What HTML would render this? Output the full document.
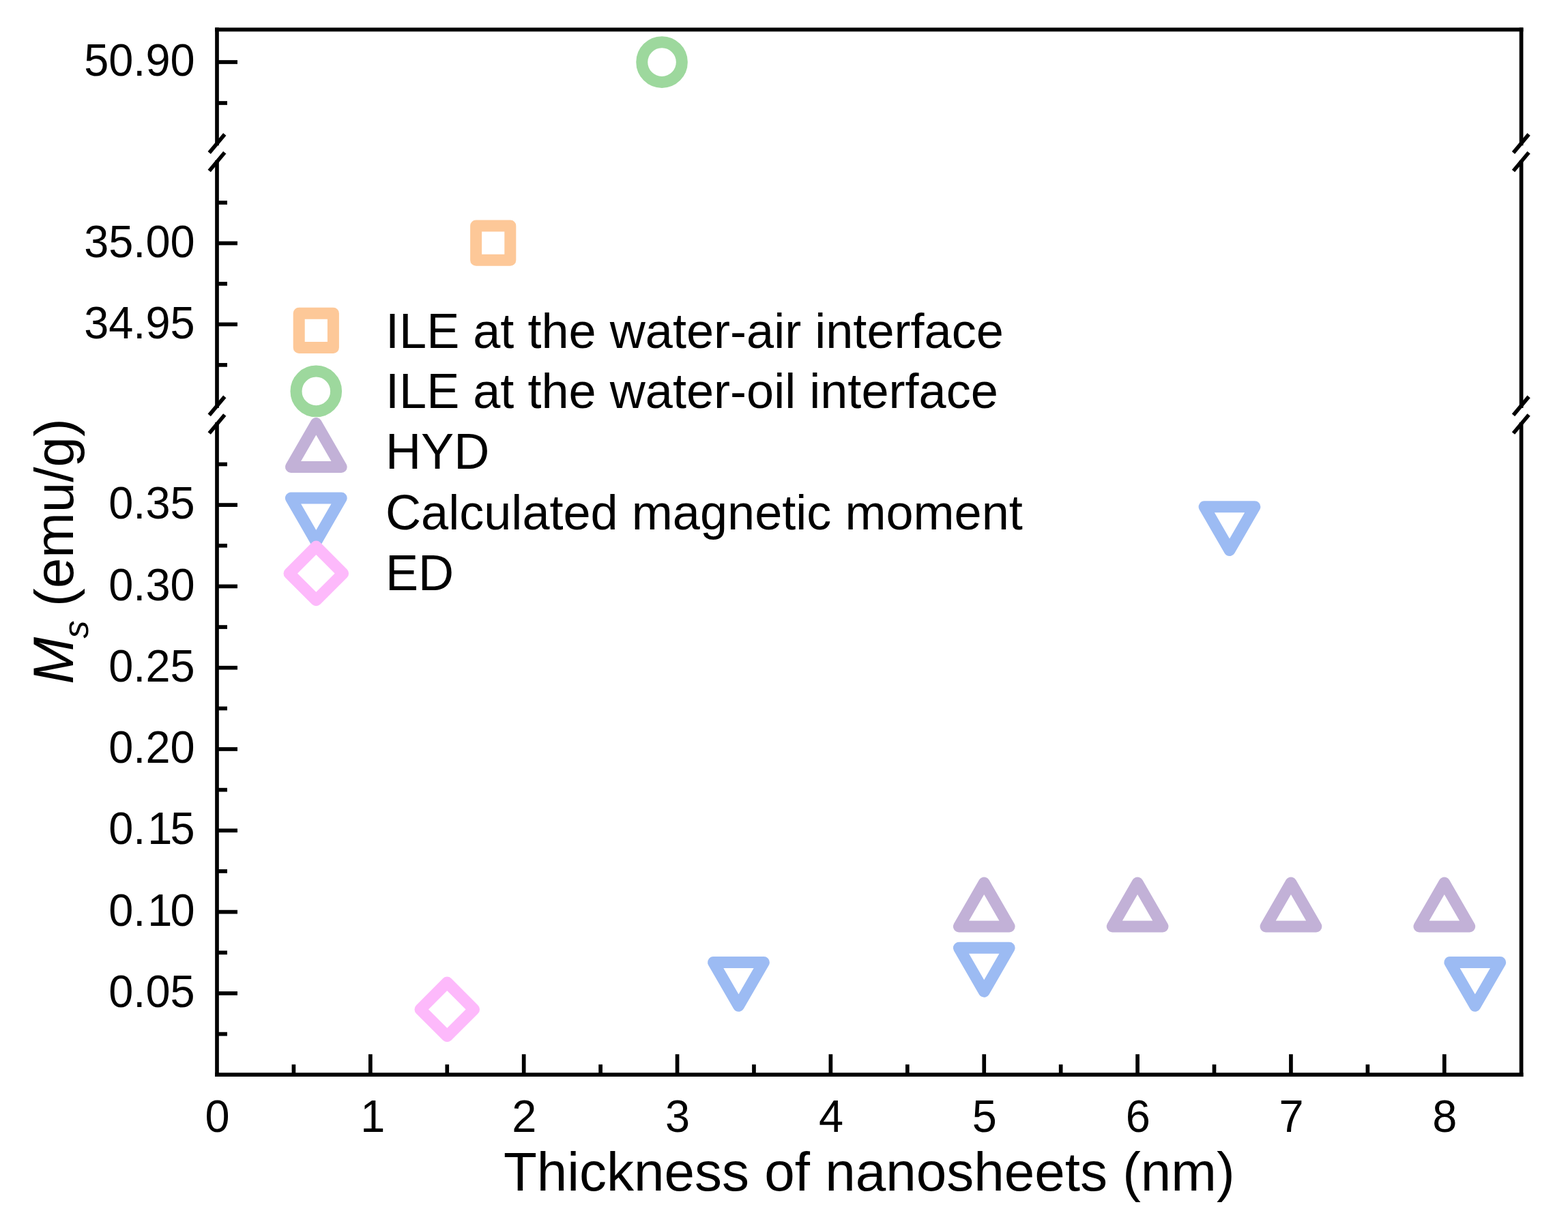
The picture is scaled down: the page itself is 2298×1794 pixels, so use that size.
<!DOCTYPE html>
<html lang="en"><head><meta charset="utf-8">
<title>Ms versus thickness of nanosheets</title>
<style>
html,body{margin:0;padding:0;background:#fff;overflow:hidden;}
body{width:2298px;height:1794px;overflow:hidden;}
svg{display:block;}
text{font-family:"Liberation Sans", sans-serif;fill:#000;}
.ax{stroke:#000;stroke-width:5.7;fill:none;stroke-linecap:butt;}
.tk{stroke:#000;stroke-width:5.7;fill:none;stroke-linecap:butt;}
.bk{stroke:#000;stroke-width:5.6;fill:none;stroke-linecap:butt;}
.m{fill:none;stroke-width:17;stroke-linejoin:round;stroke-linecap:round;}
.sq{stroke:#FDC898;}.ci{stroke:#9DD89D;}.ut{stroke:#C2B1D7;}.dt{stroke:#9CBBF3;}.di{stroke:#FDB9FB;}
.tl{font-size:64.92px;}
.lg{font-size:72.13px;}
.ti{font-size:80px;}
</style></head><body>
<svg width="2298" height="1794" viewBox="0 0 2298 1794" role="img" aria-label="Saturation magnetization versus thickness of nanosheets">
<rect x="0" y="0" width="2298" height="1794" fill="#fff"/>
<g id="axes">
<line class="ax" x1="318.00" y1="40.55" x2="318.00" y2="213.20"/>
<line class="ax" x1="318.00" y1="234.90" x2="318.00" y2="597.90"/>
<line class="ax" x1="318.00" y1="619.00" x2="318.00" y2="1578.05"/>
<line class="ax" x1="2229.55" y1="40.55" x2="2229.55" y2="213.20"/>
<line class="ax" x1="2229.55" y1="234.90" x2="2229.55" y2="597.90"/>
<line class="ax" x1="2229.55" y1="619.00" x2="2229.55" y2="1578.05"/>
<line class="ax" x1="315.15" y1="43.40" x2="2232.40" y2="43.40"/>
<line class="ax" x1="315.15" y1="1575.20" x2="2232.40" y2="1575.20"/>
<line class="bk" x1="306.70" y1="223.90" x2="329.30" y2="196.90"/>
<line class="bk" x1="306.70" y1="250.50" x2="329.30" y2="223.50"/>
<line class="bk" x1="306.70" y1="608.40" x2="329.30" y2="581.40"/>
<line class="bk" x1="306.70" y1="635.00" x2="329.30" y2="608.00"/>
<line class="bk" x1="2217.95" y1="223.90" x2="2240.55" y2="196.90"/>
<line class="bk" x1="2217.95" y1="250.50" x2="2240.55" y2="223.50"/>
<line class="bk" x1="2217.95" y1="608.40" x2="2240.55" y2="581.40"/>
<line class="bk" x1="2217.95" y1="635.00" x2="2240.55" y2="608.00"/>
</g>
<g id="yticks">
<line class="tk" x1="318.00" y1="91.00" x2="348.00" y2="91.00"/>
<line class="tk" x1="318.00" y1="356.50" x2="348.00" y2="356.50"/>
<line class="tk" x1="318.00" y1="475.40" x2="348.00" y2="475.40"/>
<line class="tk" x1="318.00" y1="740.10" x2="348.00" y2="740.10"/>
<line class="tk" x1="318.00" y1="859.40" x2="348.00" y2="859.40"/>
<line class="tk" x1="318.00" y1="978.70" x2="348.00" y2="978.70"/>
<line class="tk" x1="318.00" y1="1098.00" x2="348.00" y2="1098.00"/>
<line class="tk" x1="318.00" y1="1217.30" x2="348.00" y2="1217.30"/>
<line class="tk" x1="318.00" y1="1336.60" x2="348.00" y2="1336.60"/>
<line class="tk" x1="318.00" y1="1455.90" x2="348.00" y2="1455.90"/>
<line class="tk" x1="318.00" y1="151.00" x2="333.00" y2="151.00"/>
<line class="tk" x1="318.00" y1="297.00" x2="333.00" y2="297.00"/>
<line class="tk" x1="318.00" y1="415.90" x2="333.00" y2="415.90"/>
<line class="tk" x1="318.00" y1="534.90" x2="333.00" y2="534.90"/>
<line class="tk" x1="318.00" y1="680.45" x2="333.00" y2="680.45"/>
<line class="tk" x1="318.00" y1="799.75" x2="333.00" y2="799.75"/>
<line class="tk" x1="318.00" y1="919.05" x2="333.00" y2="919.05"/>
<line class="tk" x1="318.00" y1="1038.35" x2="333.00" y2="1038.35"/>
<line class="tk" x1="318.00" y1="1157.65" x2="333.00" y2="1157.65"/>
<line class="tk" x1="318.00" y1="1276.95" x2="333.00" y2="1276.95"/>
<line class="tk" x1="318.00" y1="1396.25" x2="333.00" y2="1396.25"/>
<line class="tk" x1="318.00" y1="1515.55" x2="333.00" y2="1515.55"/>
</g>
<g id="ylabels" class="tl" text-anchor="end">
<text transform="translate(285.60 111.10) scale(1 1.028)">50.90</text>
<text transform="translate(285.60 376.60) scale(1 1.028)">35.00</text>
<text transform="translate(285.60 495.50) scale(1 1.028)">34.95</text>
<text transform="translate(285.60 760.20) scale(1 1.028)">0.35</text>
<text transform="translate(285.60 879.50) scale(1 1.028)">0.30</text>
<text transform="translate(285.60 998.80) scale(1 1.028)">0.25</text>
<text transform="translate(285.60 1118.10) scale(1 1.028)">0.20</text>
<text transform="translate(285.60 1237.40) scale(1 1.028)" dx="0 0 2.8 -2.8">0.15</text>
<text transform="translate(285.60 1356.70) scale(1 1.028)" dx="0 0 2.8 -2.8">0.10</text>
<text transform="translate(285.60 1476.00) scale(1 1.028)">0.05</text>
</g>
<g id="xticks">
<line class="tk" x1="430.43" y1="1575.20" x2="430.43" y2="1560.20"/>
<line class="tk" x1="542.85" y1="1575.20" x2="542.85" y2="1545.20"/>
<line class="tk" x1="655.27" y1="1575.20" x2="655.27" y2="1560.20"/>
<line class="tk" x1="767.70" y1="1575.20" x2="767.70" y2="1545.20"/>
<line class="tk" x1="880.12" y1="1575.20" x2="880.12" y2="1560.20"/>
<line class="tk" x1="992.55" y1="1575.20" x2="992.55" y2="1545.20"/>
<line class="tk" x1="1104.97" y1="1575.20" x2="1104.97" y2="1560.20"/>
<line class="tk" x1="1217.40" y1="1575.20" x2="1217.40" y2="1545.20"/>
<line class="tk" x1="1329.82" y1="1575.20" x2="1329.82" y2="1560.20"/>
<line class="tk" x1="1442.25" y1="1575.20" x2="1442.25" y2="1545.20"/>
<line class="tk" x1="1554.67" y1="1575.20" x2="1554.67" y2="1560.20"/>
<line class="tk" x1="1667.10" y1="1575.20" x2="1667.10" y2="1545.20"/>
<line class="tk" x1="1779.52" y1="1575.20" x2="1779.52" y2="1560.20"/>
<line class="tk" x1="1891.95" y1="1575.20" x2="1891.95" y2="1545.20"/>
<line class="tk" x1="2004.38" y1="1575.20" x2="2004.38" y2="1560.20"/>
<line class="tk" x1="2116.80" y1="1575.20" x2="2116.80" y2="1545.20"/>
</g>
<g id="xlabels" class="tl" text-anchor="middle">
<text transform="translate(318.60 1659.00) scale(1 1.028)">0</text>
<text transform="translate(546.25 1659.00) scale(1 1.028)">1</text>
<text transform="translate(768.30 1659.00) scale(1 1.028)">2</text>
<text transform="translate(993.15 1659.00) scale(1 1.028)">3</text>
<text transform="translate(1218.00 1659.00) scale(1 1.028)">4</text>
<text transform="translate(1442.85 1659.00) scale(1 1.028)">5</text>
<text transform="translate(1667.70 1659.00) scale(1 1.028)">6</text>
<text transform="translate(1892.55 1659.00) scale(1 1.028)">7</text>
<text transform="translate(2117.40 1659.00) scale(1 1.028)">8</text>
</g>
<g id="data">
<rect class="m sq" x="697.63" y="331.10" width="50.20" height="50.20"/>
<circle class="m ci" cx="970.06" cy="91.10" r="29.30"/>
<path class="m ut" d="M1405.35 1357.90L1479.15 1357.90L1442.25 1293.99Z"/>
<path class="m ut" d="M1630.20 1357.90L1704.00 1357.90L1667.10 1293.99Z"/>
<path class="m ut" d="M1855.05 1357.90L1928.85 1357.90L1891.95 1293.99Z"/>
<path class="m ut" d="M2079.90 1357.90L2153.70 1357.90L2116.80 1293.99Z"/>
<path class="m dt" d="M1045.59 1410.40L1119.39 1410.40L1082.49 1474.31Z"/>
<path class="m dt" d="M1405.35 1389.30L1479.15 1389.30L1442.25 1453.21Z"/>
<path class="m dt" d="M1765.11 742.66L1838.91 742.66L1802.01 806.57Z"/>
<path class="m dt" d="M2124.87 1410.40L2198.67 1410.40L2161.77 1474.31Z"/>
<path class="m di" d="M615.98 1479.40L655.27 1440.10L694.57 1479.40L655.27 1518.70Z"/>
</g>
<g id="legend">
<rect class="m sq" x="438.20" y="459.30" width="50.20" height="50.20"/>
<circle class="m ci" cx="463.30" cy="573.40" r="29.30"/>
<path class="m ut" d="M426.40 684.40L500.20 684.40L463.30 620.49Z"/>
<path class="m dt" d="M426.40 730.00L500.20 730.00L463.30 793.91Z"/>
<path class="m di" d="M424.00 840.40L463.30 801.10L502.60 840.40L463.30 879.70Z"/>
<g class="lg">
<text x="565.00" y="510.00">ILE at the water-air interface</text>
<text x="565.00" y="597.75">ILE at the water-oil interface</text>
<text transform="translate(565.00 686.90) scale(1 1.04)">HYD</text>
<text x="565.00" y="776.00">Calculated magnetic moment</text>
<text transform="translate(565.00 864.60) scale(1 1.04)">ED</text>
</g></g>
<text id="xtitle" class="ti" text-anchor="middle" x="1273.75" y="1744.80">Thickness of nanosheets (nm)</text>
<text id="ytitle" class="ti" transform="translate(107.00 1002.70) rotate(-90)"><tspan font-style="italic" font-size="82.8">M</tspan><tspan font-style="italic" font-size="52" dy="22" dx="-1.8">s</tspan><tspan dy="-22" dx="-1.7"> (emu/g)</tspan></text>
</svg>
</body></html>
